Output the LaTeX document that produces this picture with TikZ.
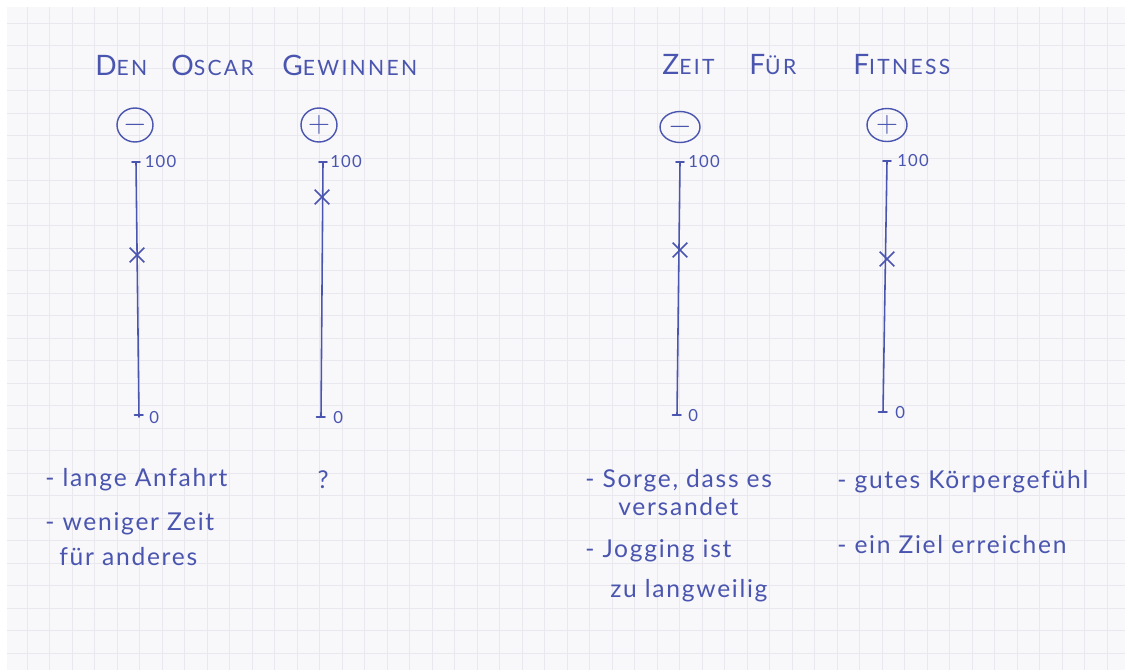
\documentclass[tikz,border=0pt]{standalone}
\usepackage{fontspec}
\setmainfont{Lato}
\newfontfamily\handfont[LetterSpace=7]{Lato}
\newfontfamily\titlefont[LetterSpace=11]{Lato}
\usepackage{tikz}
\usetikzlibrary{shapes.geometric, shapes.misc, positioning}
\usepackage{xcolor}
\definecolor{pInk}  {HTML}{4A55B0}
\definecolor{pPaper}{HTML}{F8F7F9}
\definecolor{pGrid} {HTML}{E8E8EE}
\newcommand{\capini}[1]{{\fontsize{16}{16}\selectfont #1}}

\begin{document}
\begin{tikzpicture}[x=0.02cm, y=-0.02cm,
    ink/.style={draw=pInk, line width=0.9pt, line cap=round},
    sign/.style={ellipse, draw=pInk, line width=0.8pt, inner sep=0pt,
                 minimum width=0.72cm, minimum height=0.68cm, text=pInk,
                 font=\fontsize{19}{19}\selectfont},
    pin/.style={cross out, draw=pInk, line width=0.9pt, minimum size=0.26cm,
                inner sep=0pt},
    scalelbl/.style={text=pInk, font=\handfont\fontsize{9.5}{10}\selectfont,
                     anchor=west, inner sep=0pt},
    note/.style={text=pInk, font=\handfont\fontsize{14}{17}\selectfont,
                 anchor=north west, align=left, inner sep=0pt},
    heading/.style={text=pInk, font=\titlefont\fontsize{12}{12}\selectfont,
                    anchor=base west, inner sep=0pt}]
    % paper
    \useasboundingbox[fill=white] (0,0) rectangle (1125,670);
    \fill[pPaper] (7,7) rectangle (1125,670);
    \foreach \gx in {27,49.5,...,1125}
      \draw[pGrid, line width=0.5pt] (\gx,7) -- (\gx,670);
    \foreach \gy in {23,45.5,...,670}
      \draw[pGrid, line width=0.5pt] (7,\gy) -- (1125,\gy);

    % headings
    \node[heading] (oscar) at (95,75)
      {\makebox[1.52cm][l]{\capini{D}EN}\makebox[2.22cm][l]{\capini{O}SCAR}\capini{G}EWINNEN};
    \node[heading] (fitness) at (662,74)
      {\makebox[1.74cm][l]{\capini{Z}EIT}\makebox[2.08cm][l]{\capini{F}ÜR}\capini{F}ITNESS};

    % signs
    \node[sign] (minusA) at (135,125) {$-$};
    \node[sign] (plusB)  at (319,125) {$+$};
    \node[sign, minimum width=0.8cm, minimum height=0.62cm] (minusC) at (680,127) {$-$};
    \node[sign, minimum width=0.8cm, minimum height=0.66cm] (plusD)  at (887,125) {$+$};

    % scale A
    \coordinate (topA) at (136,162);
    \coordinate (botA) at (139,417);
    \draw[ink] (topA) -- (botA);
    \draw[ink] ([xshift=-0.08cm]topA) -- ([xshift=0.08cm]topA);
    \draw[ink] ([xshift=-0.09cm, yshift=0.04cm]botA) -- ([xshift=0.08cm, yshift=0.04cm]botA);
    \node[scalelbl] (hiA) at ([xshift=0.17cm]topA) {100};
    \node[scalelbl] (loA) at ([xshift=0.2cm, yshift=-0.02cm]botA) {0};
    \node[pin] (xA) at (137,255) {};

    % scale B
    \coordinate (topB) at (323,162);
    \coordinate (botB) at (321,417);
    \draw[ink] (topB) -- (botB);
    \draw[ink] ([xshift=-0.08cm]topB) -- ([xshift=0.08cm]topB);
    \draw[ink] ([xshift=-0.09cm]botB) -- ([xshift=0.08cm]botB);
    \node[scalelbl] (hiB) at ([xshift=0.14cm]topB) {100};
    \node[scalelbl] (loB) at ([xshift=0.24cm, yshift=-0.02cm]botB) {0};
    \node[pin] (xB) at (322,197) {};

    % scale C
    \coordinate (topC) at (680,162);
    \coordinate (botC) at (677,415);
    \draw[ink] (topC) -- (botC);
    \draw[ink] ([xshift=-0.08cm]topC) -- ([xshift=0.08cm]topC);
    \draw[ink] ([xshift=-0.09cm]botC) -- ([xshift=0.08cm]botC);
    \node[scalelbl] (hiC) at ([xshift=0.16cm]topC) {100};
    \node[scalelbl] (loC) at ([xshift=0.22cm, yshift=-0.02cm]botC) {0};
    \node[pin] (xC) at (680,250) {};

    % scale D
    \coordinate (topD) at (887,161);
    \coordinate (botD) at (883,412);
    \draw[ink] (topD) -- (botD);
    \draw[ink] ([xshift=-0.08cm]topD) -- ([xshift=0.08cm]topD);
    \draw[ink] ([xshift=-0.09cm]botD) -- ([xshift=0.08cm]botD);
    \node[scalelbl] (hiD) at ([xshift=0.2cm]topD) {100};
    \node[scalelbl] (loD) at ([xshift=0.24cm, yshift=-0.02cm]botD) {0};
    \node[pin] (xD) at (887,259) {};

    % notes
    \node[note] (conA1) at (45,468) {- lange Anfahrt};
    \node[note] (conA2) at (45,512) {- weniger Zeit\\[3pt]\hspace*{0.28cm}für anderes};
    \node[note, anchor=base] (proB) at (323,488) {?};
    \node[note] (conC1) at (585,469) {- Sorge, dass es\\[-1pt]\hspace*{0.66cm}versandet};
    \node[note] (conC2) at (585,539) {- Jogging ist\\[6pt]\hspace*{0.5cm}zu langweilig};
    \node[note] (proD1) at (837,470) {- gutes Körpergefühl};
    \node[note] (proD2) at (837,535) {- ein Ziel erreichen};
\end{tikzpicture}
\end{document}
